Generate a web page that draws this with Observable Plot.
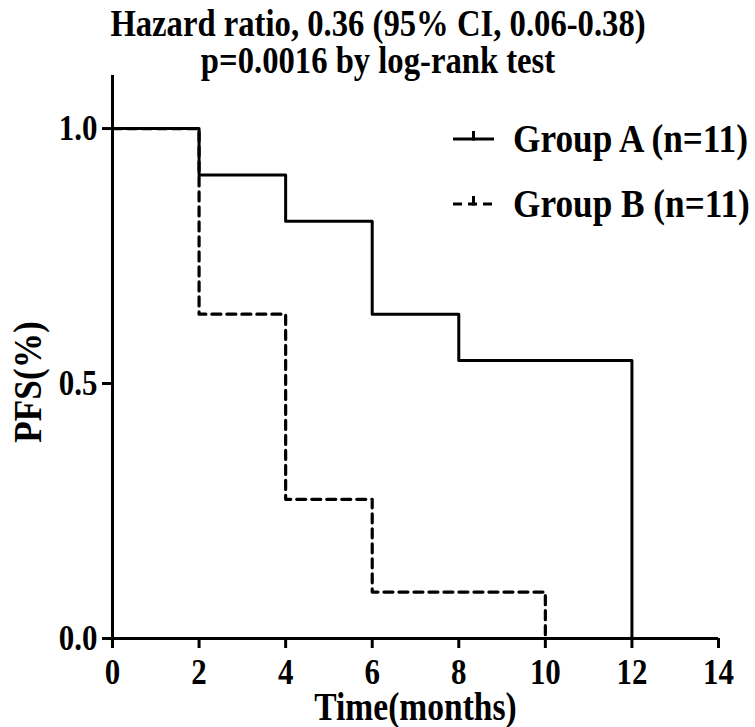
<!DOCTYPE html>
<html>
<head>
<meta charset="utf-8">
<script src="https://cdn.jsdelivr.net/npm/d3@7"></script>
<script src="https://cdn.jsdelivr.net/npm/@observablehq/plot@0.6"></script>
<style>
  html, body { margin: 0; padding: 0; background: #fff; }
</style>
</head>
<body>
<div id="chart"></div>
<script>
// ---- data ----
const titleLines = ["Hazard ratio, 0.36 (95% CI, 0.06-0.38)", "p=0.0016 by log-rank test"];
const xLabel = "Time(months)";
const yLabel = "PFS(%)";
const xTicks = [0, 2, 4, 6, 8, 10, 12, 14];
const yTicks = [0.0, 0.5, 1.0];

const groupNames = ["Group A (n=11)", "Group B (n=11)"];
const timesA = [0, 2, 4, 6, 8, 12];
const survA  = [1.0, 0.909, 0.818, 0.636, 0.545, 0.0];
const timesB = [0, 2, 4, 6, 10];
const survB  = [1.0, 0.636, 0.273, 0.091, 0.0];

const dataA = timesA.map((t, i) => ({t, s: survA[i]}));
const dataB = timesB.map((t, i) => ({t, s: survB[i]}));

const font = "'Liberation Serif', 'Times New Roman', Times, serif";
const squeeze = 0.86; // reference text is horizontally condensed

const plot = Plot.plot({
  width: 755,
  height: 727,
  marginLeft: 112,
  marginRight: 37,
  marginTop: 75,
  marginBottom: 89,
  style: {fontFamily: font, fontWeight: "bold", fontSize: "36px", color: "black", background: "white", overflow: "visible"},
  x: {domain: [0, 14]},
  y: {domain: [0, 1.104]},
  marks: [
    Plot.axisX({ticks: xTicks, tickSize: 10, tickPadding: 10, strokeWidth: 3, tickFormat: d => String(d), label: null, fontSize: 36}),
    Plot.axisY({ticks: yTicks, tickSize: 10, tickPadding: 5, strokeWidth: 3, tickFormat: d3.format(".1f"), label: null, fontSize: 36}),
    Plot.ruleX([0], {strokeWidth: 3}),
    Plot.ruleY([0], {strokeWidth: 3}),
    Plot.line(dataA, {x: "t", y: "s", curve: "step-after", stroke: "black", strokeWidth: 3}),
    Plot.line(dataB, {x: "t", y: "s", curve: "step-after", stroke: "black", strokeWidth: 3.2, strokeDasharray: "9,6"}),
    Plot.text([titleLines[0]], {frameAnchor: "top", lineAnchor: "bottom", dx: -37.5, dy: -40, fontSize: 38, fontWeight: "bold"}),
    Plot.text([titleLines[1]], {frameAnchor: "top", lineAnchor: "bottom", dx: -37.5, dy: -3, fontSize: 38, fontWeight: "bold"}),
    Plot.text([xLabel], {frameAnchor: "bottom", lineAnchor: "bottom", dy: 81, fontSize: 39, fontWeight: "bold"})
  ]
});

const svg = d3.select(plot);

// y-axis label (rotated, condensed along its own direction)
svg.append("text")
  .attr("transform", `translate(41,382) rotate(-90) scale(${squeeze},1)`)
  .attr("text-anchor", "middle")
  .attr("font-family", font).attr("font-weight", "bold").attr("font-size", 41)
  .attr("fill", "black")
  .attr("class", "no-squeeze")
  .text(yLabel);

// legend (layout in pixels)
const legend = svg.append("g").attr("font-family", font).attr("font-weight", "bold").attr("font-size", 41);
groupNames.forEach((name, i) => {
  const y = 139 + i * 65;
  const g = legend.append("g").attr("transform", `translate(453,${y})`);
  g.append("line").attr("x1", 0).attr("x2", 41).attr("y1", 0).attr("y2", 0)
    .attr("stroke", "black").attr("stroke-width", 3.2)
    .attr("stroke-dasharray", i === 1 ? "9,6" : null);
  g.append("line").attr("x1", 20.5).attr("x2", 20.5).attr("y1", 1.5).attr("y2", -8)
    .attr("stroke", "black").attr("stroke-width", 3);
  g.append("text").attr("x", 60).attr("y", 13).attr("text-anchor", "start").attr("fill", "black").text(name);
});

document.getElementById("chart").appendChild(plot);

// condense every text horizontally about its anchor point
plot.querySelectorAll("text").forEach(t => {
  if (t.classList.contains("no-squeeze")) return;
  const wrap = document.createElementNS("http://www.w3.org/2000/svg", "g");
  t.parentNode.insertBefore(wrap, t);
  wrap.appendChild(t);
  const b = wrap.getBBox();
  const anchor = getComputedStyle(t).textAnchor;
  const ax = anchor === "start" ? b.x : anchor === "end" ? b.x + b.width : b.x + b.width / 2;
  wrap.setAttribute("transform", `translate(${ax},0) scale(${squeeze},1) translate(${-ax},0)`);
});
</script>
</body>
</html>
